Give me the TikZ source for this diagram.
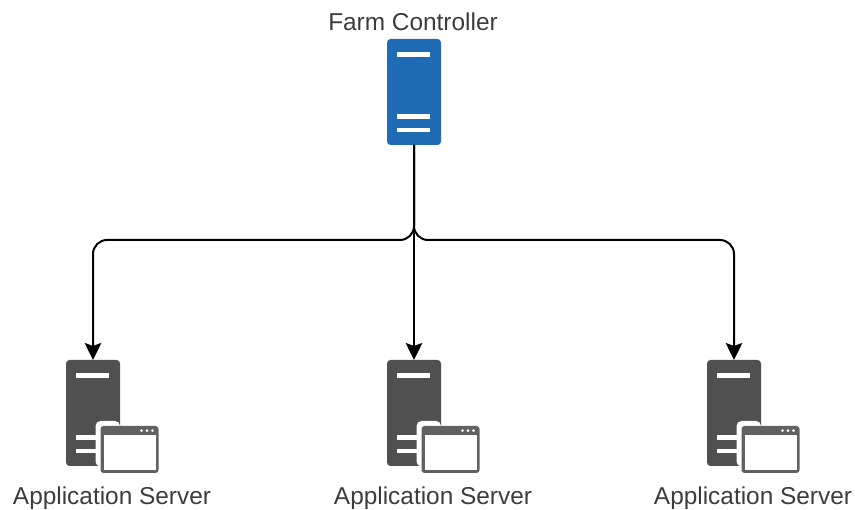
\documentclass[tikz,border=0pt]{standalone}
\usepackage{fontspec}
\setmainfont{Liberation Sans}
\usetikzlibrary{arrows.meta,calc}
\definecolor{bluebody}{HTML}{1F6CB5}
\definecolor{graybody}{HTML}{505050}
\definecolor{labeltext}{HTML}{3C3C3C}
\tikzset{
  x=1pt,y=-1pt,
  towerbody/.style={rectangle,rounded corners=3.5pt,minimum width=54pt,minimum height=106pt,inner sep=0pt,line width=0pt,draw=none},
  bluetower/.style={towerbody,fill=bluebody},
  graytower/.style={towerbody,fill=graybody},
  slot/.style={fill=white,draw=none},
  serverlabel/.style={text=labeltext,font=\fontsize{24.4pt}{28pt}\selectfont,inner sep=0pt,anchor=base},
  link/.style={draw=black,line width=2pt,rounded corners=14pt,-{Stealth[length=17pt,width=16.5pt,inset=3pt]}},
  winhalo/.style={fill=white,draw=none,rounded corners=5pt},
  winframe/.style={fill=graybody!90!white,draw=none,rounded corners=3pt},
  winpane/.style={fill=white,draw=none},
}
\newcommand{\slots}[1]{%
  \fill[slot] ($(#1.center)+(-17,-39.5)$) rectangle ++(33,4.5);
  \fill[slot] ($(#1.center)+(-17,22.5)$) rectangle ++(33,4.5);
  \fill[slot] ($(#1.center)+(-17,36)$) rectangle ++(33,4.5);
}
\newcommand{\appwindow}[1]{%
  \fill[winhalo] ($(#1.center)+(2.5,8)$) rectangle ($(#1.center)+(27,53.5)$);
  \fill[winframe] ($(#1.center)+(7.5,13)$) rectangle ($(#1.center)+(65.5,60)$);
  \fill[winpane] ($(#1.center)+(10.5,22.5)$) rectangle ($(#1.center)+(62.5,57)$);
  \foreach \d in {48.5,54,59.5}{\fill[white] ($(#1.center)+(\d,17.7)$) circle (1.5);}
}
\begin{document}
\begin{tikzpicture}
\useasboundingbox (0,0) rectangle (855,510);
\node[serverlabel] (lc) at (413,30.5) {Farm Controller};
\node[bluetower] (c) at (414,92) {};
\slots{c}

\node[graytower] (s1) at (93,413) {};
\node[graytower] (s2) at (414,413) {};
\node[graytower] (s3) at (734,413) {};
\slots{s1}\slots{s2}\slots{s3}
\appwindow{s1}\appwindow{s2}\appwindow{s3}

\node[serverlabel] (l1) at (112,505) {Application Server};
\node[serverlabel] (l2) at (433,505) {Application Server};
\node[serverlabel] (l3) at (753,505) {Application Server};

\coordinate (bus) at (414,240);
\draw[link] (c.south) -- (bus) -| (s1.north);
\draw[link] (c.south) -- (s2.north);
\draw[link] (c.south) -- (bus) -| (s3.north);
\end{tikzpicture}
\end{document}
